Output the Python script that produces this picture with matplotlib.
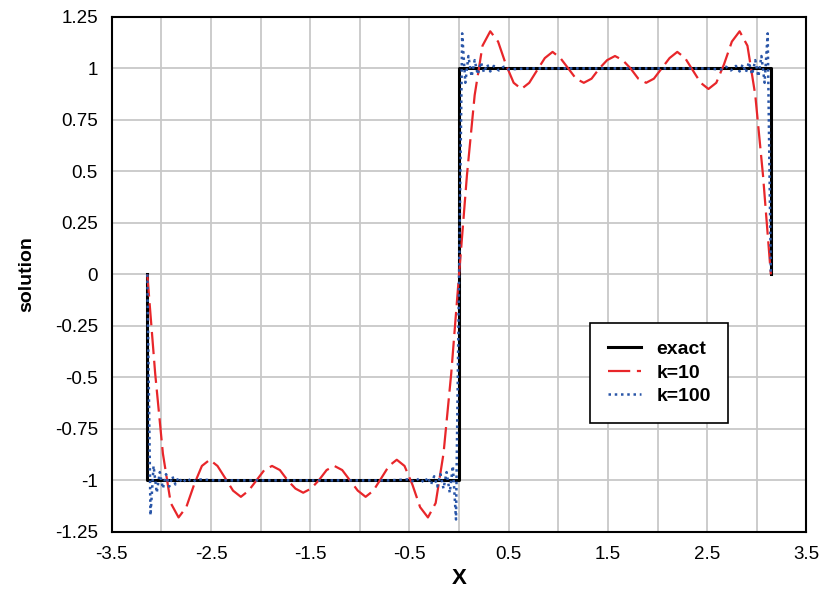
import matplotlib
matplotlib.use("Agg")
import matplotlib.pyplot as plt

plt.rcParams['font.family'] = ['Liberation Sans', 'DejaVu Sans']

# exact square wave
x_exact = [-3.1416, -3.1416, 0.0, 0.0, 3.1416, 3.1416]
y_exact = [0.0, -1.0, -1.0, 1.0, 1.0, 0.0]

# k=10 partial sum, read at steps of pi/40
x_k10 = [-3.142, -3.063, -2.985, -2.906, -2.827, -2.749, -2.670, -2.592, -2.513, -2.435,
         -2.356, -2.278, -2.199, -2.121, -2.042, -1.963, -1.885, -1.806, -1.728, -1.649,
         -1.571, -1.492, -1.414, -1.335, -1.257, -1.178, -1.100, -1.021, -0.942, -0.864,
         -0.785, -0.707, -0.628, -0.550, -0.471, -0.393, -0.314, -0.236, -0.157, -0.079,
         0.0, 0.079, 0.157, 0.236, 0.314, 0.393, 0.471, 0.550, 0.628, 0.707,
         0.785, 0.864, 0.942, 1.021, 1.100, 1.178, 1.257, 1.335, 1.414, 1.492,
         1.571, 1.649, 1.728, 1.806, 1.885, 1.963, 2.042, 2.121, 2.199, 2.278,
         2.356, 2.435, 2.513, 2.592, 2.670, 2.749, 2.827, 2.906, 2.985, 3.063, 3.142]
y_k10 = [0.0, -0.48, -0.87, -1.11, -1.18, -1.13, -1.02, -0.93, -0.90, -0.93,
         -0.99, -1.05, -1.08, -1.05, -1.00, -0.95, -0.93, -0.95, -1.00, -1.04,
         -1.06, -1.04, -1.00, -0.95, -0.93, -0.95, -1.00, -1.05, -1.08, -1.05,
         -0.99, -0.93, -0.90, -0.93, -1.02, -1.13, -1.18, -1.11, -0.87, -0.48,
         0.0, 0.48, 0.87, 1.11, 1.18, 1.13, 1.02, 0.93, 0.90, 0.93,
         0.99, 1.05, 1.08, 1.05, 1.00, 0.95, 0.93, 0.95, 1.00, 1.04,
         1.06, 1.04, 1.00, 0.95, 0.93, 0.95, 1.00, 1.05, 1.08, 1.05,
         0.99, 0.93, 0.90, 0.93, 1.02, 1.13, 1.18, 1.11, 0.87, 0.48, 0.0]

# k=100 partial sum
x_k100 = [-3.142, -3.110, -3.079, -3.047, -3.016, -2.985, -2.953, -2.921, -2.890, -2.859,
          -2.827, -2.790, -2.740, -2.690, -2.640, -2.45, -2.15, -1.85, -1.57, -1.30,
          -1.00, -0.70, -0.50, -0.45, -0.40, -0.35, -0.314, -0.283, -0.251, -0.220,
          -0.188, -0.157, -0.126, -0.094, -0.063, -0.031, 0.0,
          0.031, 0.063, 0.094, 0.126, 0.157, 0.188, 0.220, 0.251, 0.283, 0.314,
          0.35, 0.40, 0.45, 0.50, 0.70, 1.00, 1.30, 1.57, 1.85, 2.15, 2.45,
          2.640, 2.690, 2.740, 2.790, 2.827, 2.859, 2.890, 2.921, 2.953, 2.985,
          3.016, 3.047, 3.079, 3.110, 3.142]
y_k100 = [0.0, -1.17, -0.93, -1.06, -0.96, -1.04, -0.97, -1.03, -0.98, -1.02,
          -0.985, -1.012, -0.99, -1.008, -0.995, -1.0, -1.0, -1.0, -1.0, -1.0,
          -1.0, -1.0, -0.995, -1.008, -0.99, -1.012, -0.985, -1.02, -0.98, -1.03,
          -0.97, -1.04, -0.96, -1.06, -0.93, -1.19, 0.0,
          1.17, 0.93, 1.06, 0.96, 1.04, 0.97, 1.03, 0.98, 1.02, 0.985,
          1.012, 0.99, 1.008, 0.995, 1.0, 1.0, 1.0, 1.0, 1.0, 1.0, 1.0,
          0.995, 1.008, 0.99, 1.012, 0.985, 1.02, 0.98, 1.03, 0.97, 1.04,
          0.96, 1.06, 0.93, 1.17, 0.0]

x_ticks = [-3.5, -3, -2.5, -2, -1.5, -1, -0.5, 0, 0.5, 1, 1.5, 2, 2.5, 3, 3.5]
x_labels = ['-3.5', '', '-2.5', '', '-1.5', '', '-0.5', '', '0.5', '', '1.5', '', '2.5', '', '3.5']
y_ticks = [-1.25, -1, -0.75, -0.5, -0.25, 0, 0.25, 0.5, 0.75, 1, 1.25]
y_labels = ['-1.25', '-1', '-0.75', '-0.5', '-0.25', '0', '0.25', '0.5', '0.75', '1', '1.25']

fig = plt.figure(figsize=(8.22, 6.03), dpi=100)
ax = fig.add_axes([0.136, 0.118, 0.845, 0.854])

ax.plot(x_exact, y_exact, color='black', lw=2.2, label='exact', zorder=3)
ax.plot(x_k10, y_k10, color='#e8262a', lw=1.6, dashes=(10, 3), label='k=10', zorder=4)
ax.plot(x_k100, y_k100, color='#2a56a8', lw=1.8, linestyle=(0, (1, 1.5)), label='k=100', zorder=5)

ax.set_xlim(-3.5, 3.5)
ax.set_ylim(-1.25, 1.25)
ax.set_xticks(x_ticks)
ax.set_xticklabels(x_labels)
ax.set_yticks(y_ticks)
ax.set_yticklabels(y_labels)
ax.tick_params(length=0, labelsize=13.5, pad=10)
ax.grid(True, color='#c8c8c8', lw=1.3)
ax.set_axisbelow(True)
for s in ax.spines.values():
    s.set_color('black')
    s.set_linewidth(1.5)

ax.set_xlabel('X', fontsize=16, fontweight='bold', labelpad=4)
ax.set_ylabel('solution', fontsize=14, fontweight='bold', labelpad=14)

leg = ax.legend(loc='lower left', bbox_to_anchor=(0.689, 0.212), borderaxespad=0,
                fancybox=False, edgecolor='black', framealpha=1,
                prop={'weight': 'bold', 'size': 14},
                handlelength=1.7, handletextpad=0.8, borderpad=0.9, labelspacing=0.3)
leg.get_frame().set_linewidth(1.2)

fig.savefig('out.png', dpi=100)
